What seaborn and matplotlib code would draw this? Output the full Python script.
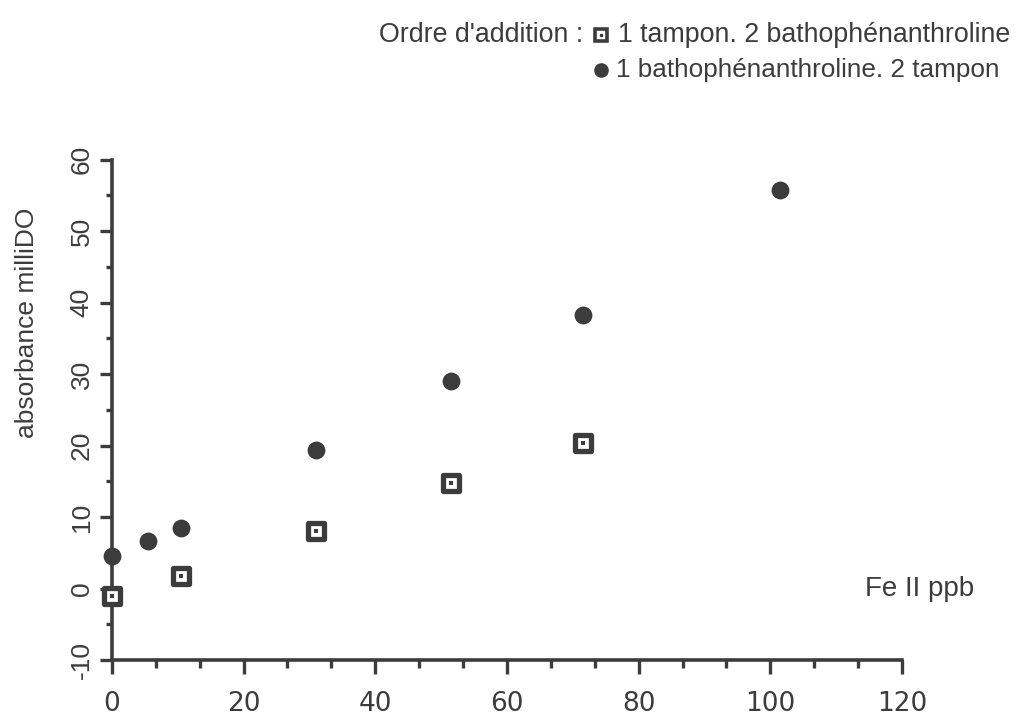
import matplotlib
matplotlib.use("Agg")
import matplotlib.pyplot as plt
from matplotlib.lines import Line2D
from matplotlib.ticker import MultipleLocator
import pandas as pd
import seaborn as sns

# values
fe_bpt_first = [0, 5.5, 10.5, 31, 51.5, 71.5, 101.5]
abs_bpt_first = [4.6, 6.6, 8.5, 19.4, 29.1, 38.3, 55.7]
fe_buffer_first = [0, 10.5, 31, 51.5, 71.5]
abs_buffer_first = [-1.0, 1.7, 8.0, 14.7, 20.3]

label_buffer_first = "1 tampon. 2 bathophénanthroline"
label_bpt_first = "1 bathophénanthroline. 2 tampon"

x_ticks = [0, 20, 40, 60, 80, 100, 120]
y_ticks = [-10, 0, 10, 20, 30, 40, 50, 60]

ink = "#3c3c3c"

sns.set_theme(style="ticks")
plt.rcParams["font.family"] = ["Liberation Sans", "DejaVu Sans"]
plt.rcParams["axes.unicode_minus"] = False
plt.rcParams["text.color"] = ink
plt.rcParams["axes.edgecolor"] = ink
plt.rcParams["xtick.color"] = ink
plt.rcParams["ytick.color"] = ink

df_bpt = pd.DataFrame({"fe": fe_bpt_first, "absorbance": abs_bpt_first})
df_buf = pd.DataFrame({"fe": fe_buffer_first, "absorbance": abs_buffer_first})

fig = plt.figure(figsize=(10.17, 7.25), dpi=100)
ax = fig.add_axes([0.110, 0.0897, 0.777, 0.690])

sns.scatterplot(data=df_bpt, x="fe", y="absorbance", ax=ax, marker="o",
                s=165, color=ink, edgecolor=ink, linewidth=0, clip_on=False, zorder=3)
sns.scatterplot(data=df_buf, x="fe", y="absorbance", ax=ax, marker="s",
                s=125, color="white", edgecolor=ink, linewidth=3.8, clip_on=False, zorder=3)
sns.scatterplot(data=df_buf, x="fe", y="absorbance", ax=ax, marker="s",
                s=6, color=ink, edgecolor=ink, linewidth=0, clip_on=False, zorder=4)

ax.set_xlim(0, 120)
ax.set_ylim(-10, 60)
ax.set_xticks(x_ticks)
ax.set_yticks(y_ticks)
ax.xaxis.set_minor_locator(MultipleLocator(20 / 3))
ax.yaxis.set_minor_locator(MultipleLocator(5))
ax.tick_params(axis="x", which="major", length=10, width=2.4, direction="out", pad=12)
ax.tick_params(axis="x", which="minor", length=5.5, width=2.4, direction="out")
ax.tick_params(axis="y", which="major", length=9, width=2.4, direction="out", pad=4,
               labelsize=19)
ax.tick_params(axis="y", which="minor", length=4, width=2.4, direction="out")
for lab in ax.get_xticklabels():
    lab.set_fontfamily("DejaVu Sans")
    lab.set_fontsize(19)
for lab in ax.get_yticklabels():
    lab.set_rotation(90)
    lab.set_va("center")
sns.despine(ax=ax)
ax.spines["left"].set_linewidth(2.6)
ax.spines["bottom"].set_linewidth(2.6)
ax.set_xlabel("")
ax.set_ylabel("")

fig.text(27 / 1017, 1 - 323 / 725, "absorbance milliDO", rotation=90,
         ha="center", va="center", fontsize=19)
ax.text(114.3, 0, "Fe II ppb", ha="left", va="center", fontsize=20, clip_on=False)

# legend written as in the original: right-aligned lines with a leading marker
t1 = fig.text(0.993, 0.952, label_buffer_first, ha="right", va="center", fontsize=19.3)
t2 = fig.text(0.983, 0.903, label_bpt_first, ha="right", va="center", fontsize=18.8)
fig.canvas.draw()
r = fig.canvas.get_renderer()
W = fig.bbox.width
b1 = t1.get_window_extent(r)
b2 = t2.get_window_extent(r)
sq_x = (b1.x0 - 17) / W
ci_x = (b2.x0 - 15) / W
fig.add_artist(Line2D([sq_x], [0.952], marker="s", markersize=8, markerfacecolor="white",
                      markeredgecolor=ink, markeredgewidth=2.6, transform=fig.transFigure))
fig.add_artist(Line2D([sq_x], [0.952], marker="s", markersize=2, color=ink,
                      transform=fig.transFigure))
fig.add_artist(Line2D([ci_x], [0.903], marker="o", markersize=10.5, color=ink,
                      markeredgewidth=0, transform=fig.transFigure))
fig.text(sq_x - 17 / W, 0.952, "Ordre d'addition :", ha="right", va="center", fontsize=19.3)

fig.savefig("out.png", dpi=100)
